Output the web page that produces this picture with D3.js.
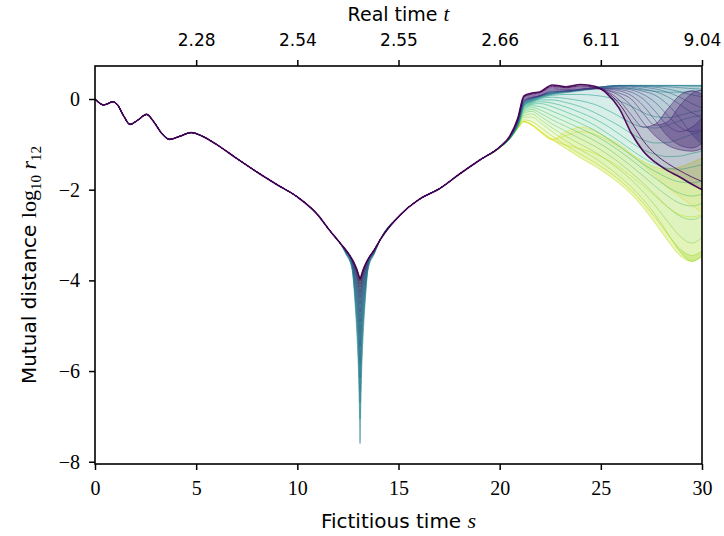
<!DOCTYPE html>
<html><head><meta charset="utf-8">
<script src="https://cdn.jsdelivr.net/npm/d3@7"></script>
<style>body{margin:0;background:#fff}svg{display:block}</style>
</head><body>
<svg id="chart" width="724" height="536"></svg>
<script>
// ---------------- data ----------------
const xTicks = [0, 5, 10, 15, 20, 25, 30];
const yTicks = [0, -2, -4, -6, -8];
const topTicks = [5, 10, 15, 20, 25, 30];
const realTimeLabels = ["2.28", "2.54", "2.55", "2.66", "6.11", "9.04"];

// shared early part of every trajectory
const earlyS = [0,0.2,0.41,0.65,0.86,1.1,1.4,1.73,2.1,2.55,2.9,3.3,3.67,4.2,4.75,5.3,6.0,7.0,8.0,9.0,10.0,11.0,11.6,12.1];
const earlyV = [0,-0.08,-0.13,-0.1,-0.06,-0.12,-0.36,-0.56,-0.47,-0.34,-0.5,-0.76,-0.89,-0.82,-0.74,-0.82,-1.0,-1.31,-1.61,-1.89,-2.16,-2.55,-2.9,-3.17];

// close encounter (per trajectory)
const dipS = [12.4,12.7,12.85,12.95,13.02,13.07,13.1,13.13,13.18,13.25,13.35,13.5,13.8];
const dipV = [
 [-3.33,-3.53,-3.66,-3.77,-3.87,-3.94,-3.97,-3.94,-3.87,-3.77,-3.66,-3.53,-3.33],
 [-3.33,-3.53,-3.67,-3.78,-3.89,-3.97,-4.01,-3.97,-3.89,-3.78,-3.67,-3.53,-3.33],
 [-3.33,-3.54,-3.69,-3.81,-3.93,-4.03,-4.08,-4.03,-3.93,-3.81,-3.69,-3.54,-3.33],
 [-3.33,-3.54,-3.7,-3.84,-3.98,-4.09,-4.15,-4.09,-3.98,-3.84,-3.7,-3.54,-3.33],
 [-3.34,-3.55,-3.73,-3.89,-4.04,-4.18,-4.26,-4.18,-4.04,-3.89,-3.73,-3.55,-3.34],
 [-3.34,-3.55,-3.75,-3.93,-4.1,-4.27,-4.37,-4.27,-4.1,-3.93,-3.75,-3.55,-3.34],
 [-3.34,-3.56,-3.79,-3.99,-4.19,-4.38,-4.51,-4.38,-4.19,-3.99,-3.79,-3.56,-3.34],
 [-3.35,-3.57,-3.83,-4.07,-4.3,-4.53,-4.7,-4.53,-4.3,-4.07,-3.83,-3.57,-3.35],
 [-3.35,-3.59,-3.88,-4.15,-4.42,-4.71,-4.91,-4.71,-4.42,-4.15,-3.88,-3.59,-3.35],
 [-3.36,-3.6,-3.94,-4.26,-4.57,-4.92,-5.17,-4.92,-4.57,-4.26,-3.94,-3.6,-3.36],
 [-3.37,-3.62,-4.0,-4.38,-4.74,-5.15,-5.46,-5.15,-4.74,-4.38,-4.0,-3.62,-3.37],
 [-3.38,-3.64,-4.08,-4.51,-4.94,-5.42,-5.79,-5.42,-4.94,-4.51,-4.08,-3.64,-3.38],
 [-3.38,-3.66,-4.16,-4.66,-5.15,-5.72,-6.15,-5.72,-5.15,-4.66,-4.16,-3.66,-3.38],
 [-3.4,-3.7,-4.29,-4.88,-5.47,-6.16,-6.69,-6.16,-5.47,-4.88,-4.29,-3.7,-3.4],
 [-3.42,-3.75,-4.5,-5.25,-6.0,-6.9,-7.6,-6.9,-6.0,-5.25,-4.5,-3.75,-3.42],
 [-3.41,-3.72,-4.37,-5.03,-5.68,-6.46,-7.06,-6.46,-5.68,-5.03,-4.37,-3.72,-3.41],
 [-3.39,-3.68,-4.23,-4.78,-5.32,-5.95,-6.44,-5.95,-5.32,-4.78,-4.23,-3.68,-3.39],
 [-3.38,-3.64,-4.1,-4.54,-4.98,-5.48,-5.86,-5.48,-4.98,-4.54,-4.1,-3.64,-3.38],
 [-3.37,-3.62,-4.0,-4.36,-4.72,-5.12,-5.42,-5.12,-4.72,-4.36,-4.0,-3.62,-3.37],
 [-3.36,-3.6,-3.91,-4.21,-4.51,-4.83,-5.06,-4.83,-4.51,-4.21,-3.91,-3.6,-3.36],
 [-3.35,-3.58,-3.84,-4.1,-4.34,-4.59,-4.77,-4.59,-4.34,-4.1,-3.84,-3.58,-3.35],
 [-3.34,-3.57,-3.79,-4.01,-4.21,-4.41,-4.55,-4.41,-4.21,-4.01,-3.79,-3.57,-3.34],
 [-3.34,-3.56,-3.76,-3.95,-4.13,-4.3,-4.41,-4.3,-4.13,-3.95,-3.76,-3.56,-3.34],
 [-3.34,-3.55,-3.74,-3.9,-4.06,-4.21,-4.3,-4.21,-4.06,-3.9,-3.74,-3.55,-3.34],
 [-3.34,-3.55,-3.72,-3.87,-4.02,-4.15,-4.22,-4.15,-4.02,-3.87,-3.72,-3.55,-3.34],
 [-3.33,-3.54,-3.7,-3.84,-3.98,-4.09,-4.15,-4.09,-3.98,-3.84,-3.7,-3.54,-3.33],
 [-3.33,-3.54,-3.69,-3.83,-3.96,-4.06,-4.12,-4.06,-3.96,-3.83,-3.69,-3.54,-3.33],
 [-3.33,-3.54,-3.69,-3.81,-3.93,-4.03,-4.08,-4.03,-3.93,-3.81,-3.69,-3.54,-3.33],
 [-3.33,-3.53,-3.68,-3.8,-3.91,-4.0,-4.04,-4.0,-3.91,-3.8,-3.68,-3.53,-3.33],
 [-3.33,-3.53,-3.67,-3.79,-3.9,-3.98,-4.02,-3.98,-3.9,-3.79,-3.67,-3.53,-3.33],
 [-3.33,-3.53,-3.67,-3.78,-3.89,-3.97,-4.01,-3.97,-3.89,-3.78,-3.67,-3.53,-3.33],
 [-3.33,-3.53,-3.66,-3.78,-3.88,-3.95,-3.99,-3.95,-3.88,-3.78,-3.66,-3.53,-3.33],
 [-3.33,-3.53,-3.66,-3.77,-3.87,-3.94,-3.97,-3.94,-3.87,-3.77,-3.66,-3.53,-3.33]
];

// shared recession after the encounter
const midS = [14.1,15.1,16.0,17.05,18.0,19.0];
const midV = [-3.1,-2.55,-2.22,-1.97,-1.66,-1.35];

// late, diverging part (per trajectory)
const lateS = [20.0,20.5,20.9,21.2,21.6,22.0,22.6,23.3,24.0,24.7,25.3,25.9,26.5,27.1,27.7,28.3,28.9,29.5,30.0];
const lateV = [
 [-1.06,-0.82,-0.42,0.07,0.13,0.16,0.31,0.27,0.32,0.28,0.12,-0.2,-0.75,-1.15,-1.4,-1.58,-1.72,-1.88,-2.0],
 [-1.06,-0.82,-0.43,0.05,0.11,0.14,0.28,0.25,0.29,0.26,0.15,-0.1,-0.5,-0.92,-1.22,-1.42,-1.58,-1.72,-1.82],
 [-1.06,-0.82,-0.44,0.04,0.09,0.12,0.26,0.23,0.27,0.25,0.17,-0.02,-0.35,-0.62,-0.55,-0.22,0.08,0.18,0.1],
 [-1.06,-0.83,-0.45,0.02,0.07,0.1,0.24,0.21,0.25,0.24,0.19,0.08,-0.15,-0.52,-0.82,-1.02,-1.12,-1.15,-1.1],
 [-1.06,-0.83,-0.46,0.0,0.05,0.08,0.22,0.2,0.23,0.23,0.2,0.13,0.0,-0.32,-0.58,-0.5,-0.15,0.12,0.2],
 [-1.06,-0.83,-0.47,-0.02,0.04,0.07,0.2,0.19,0.22,0.23,0.22,0.18,0.08,-0.15,-0.48,-0.82,-1.02,-1.08,-0.98],
 [-1.06,-0.83,-0.48,-0.03,0.03,0.07,0.18,0.18,0.21,0.23,0.23,0.21,0.15,0.0,-0.28,-0.58,-0.72,-0.62,-0.42],
 [-1.06,-0.84,-0.49,-0.04,0.03,0.07,0.17,0.17,0.2,0.23,0.24,0.23,0.2,0.1,-0.08,-0.36,-0.62,-0.72,-0.68],
 [-1.06,-0.84,-0.5,-0.05,0.02,0.07,0.16,0.17,0.2,0.23,0.25,0.26,0.23,0.17,0.08,-0.12,-0.42,-0.78,-1.0],
 [-1.06,-0.84,-0.5,-0.06,0.02,0.07,0.15,0.17,0.2,0.23,0.26,0.28,0.26,0.22,0.16,0.05,-0.12,-0.3,-0.42],
 [-1.06,-0.84,-0.51,-0.07,0.01,0.07,0.14,0.17,0.2,0.24,0.27,0.29,0.28,0.26,0.22,0.15,0.04,-0.1,-0.2],
 [-1.06,-0.85,-0.52,-0.08,0.0,0.07,0.14,0.17,0.21,0.25,0.28,0.29,0.29,0.28,0.26,0.22,0.16,0.09,0.05],
 [-1.06,-0.85,-0.52,-0.09,0.0,0.06,0.13,0.17,0.21,0.25,0.28,0.3,0.29,0.29,0.28,0.27,0.25,0.23,0.22],
 [-1.06,-0.85,-0.53,-0.1,-0.01,0.06,0.13,0.17,0.21,0.25,0.28,0.3,0.3,0.29,0.29,0.29,0.29,0.28,0.28],
 [-1.06,-0.85,-0.53,-0.11,-0.02,0.05,0.12,0.16,0.2,0.25,0.28,0.3,0.3,0.3,0.3,0.3,0.3,0.3,0.3],
 [-1.06,-0.86,-0.54,-0.12,-0.03,0.04,0.11,0.15,0.2,0.24,0.27,0.29,0.3,0.3,0.3,0.3,0.3,0.3,0.3],
 [-1.06,-0.86,-0.54,-0.13,-0.04,0.03,0.1,0.14,0.18,0.22,0.24,0.24,0.23,0.2,0.17,0.15,0.15,0.17,0.19],
 [-1.07,-0.86,-0.55,-0.14,-0.05,0.02,0.08,0.1,0.1,0.08,0.04,-0.04,-0.16,-0.3,-0.39,-0.41,-0.36,-0.29,-0.25],
 [-1.07,-0.86,-0.56,-0.15,-0.06,0.01,0.04,0.01,-0.04,-0.12,-0.24,-0.38,-0.53,-0.62,-0.64,-0.58,-0.48,-0.4,-0.36],
 [-1.07,-0.87,-0.57,-0.17,-0.08,-0.02,-0.02,-0.08,-0.17,-0.3,-0.44,-0.59,-0.76,-0.9,-0.97,-0.96,-0.88,-0.78,-0.72],
 [-1.07,-0.87,-0.58,-0.19,-0.1,-0.06,-0.09,-0.18,-0.3,-0.44,-0.59,-0.77,-0.96,-1.12,-1.22,-1.27,-1.26,-1.2,-1.15],
 [-1.07,-0.87,-0.58,-0.21,-0.12,-0.1,-0.17,-0.29,-0.42,-0.58,-0.75,-0.93,-1.12,-1.3,-1.44,-1.53,-1.55,-1.5,-1.45],
 [-1.07,-0.87,-0.59,-0.23,-0.15,-0.17,-0.27,-0.4,-0.54,-0.69,-0.86,-1.04,-1.24,-1.44,-1.6,-1.74,-1.83,-1.85,-1.8],
 [-1.07,-0.87,-0.6,-0.26,-0.19,-0.24,-0.37,-0.51,-0.65,-0.8,-0.96,-1.14,-1.34,-1.55,-1.75,-1.94,-2.08,-2.14,-2.1],
 [-1.07,-0.88,-0.6,-0.29,-0.23,-0.31,-0.46,-0.61,-0.76,-0.92,-1.08,-1.27,-1.48,-1.7,-1.93,-2.14,-2.3,-2.36,-2.3],
 [-1.07,-0.88,-0.61,-0.32,-0.27,-0.38,-0.55,-0.72,-0.88,-1.04,-1.21,-1.4,-1.62,-1.86,-2.12,-2.38,-2.58,-2.66,-2.58],
 [-1.07,-0.88,-0.62,-0.36,-0.33,-0.45,-0.64,-0.83,-1.0,-1.17,-1.35,-1.55,-1.78,-2.05,-2.36,-2.7,-3.02,-3.18,-3.05],
 [-1.08,-0.88,-0.62,-0.4,-0.4,-0.52,-0.72,-0.93,-1.12,-1.3,-1.49,-1.7,-1.94,-2.22,-2.56,-2.96,-3.36,-3.58,-3.45],
 [-1.08,-0.88,-0.63,-0.46,-0.5,-0.62,-0.82,-1.03,-1.22,-1.4,-1.58,-1.78,-2.02,-2.3,-2.62,-2.98,-3.3,-3.45,-3.35],
 [-1.08,-0.88,-0.64,-0.5,-0.57,-0.7,-0.9,-1.1,-1.3,-1.48,-1.66,-1.86,-2.1,-2.4,-2.75,-3.12,-3.45,-3.58,-3.48],
 [-1.08,-0.88,-0.64,-0.5,-0.58,-0.72,-0.9,-1.02,-1.1,-1.2,-1.33,-1.5,-1.7,-1.92,-2.15,-2.38,-2.55,-2.6,-2.55],
 [-1.08,-0.88,-0.64,-0.5,-0.58,-0.73,-0.9,-0.8,-0.72,-0.78,-0.9,-1.05,-1.22,-1.38,-1.5,-1.55,-1.5,-1.4,-1.3],
 [-1.08,-0.88,-0.64,-0.5,-0.58,-0.72,-0.88,-0.72,-0.62,-0.7,-0.85,-1.0,-1.2,-1.45,-1.7,-1.95,-2.15,-2.35,-2.5]
];

// ---------------- drawing ----------------
const svg = d3.select("#chart");
const L = 95, R = 702, T = 66, B = 464;
const x = d3.scaleLinear().domain([0, 30]).range([L, R]);
const y = d3.scaleLinear().domain([-8.05, 0.728]).range([B, T]);
const N = lateV.length;
const color = i => d3.interpolateViridis(i / (N - 1));

const curves = d3.range(N).map(i => {
  const pts = [];
  earlyS.forEach((s, k) => pts.push([s, earlyV[k]]));
  dipS.forEach((s, k) => pts.push([s, dipV[i][k]]));
  midS.forEach((s, k) => pts.push([s, midV[k]]));
  lateS.forEach((s, k) => pts.push([s, lateV[i][k]]));
  return pts;
});

svg.append("defs").append("clipPath").attr("id", "clip")
  .append("rect").attr("x", L).attr("y", T).attr("width", R - L).attr("height", B - T);

const plot = svg.append("g").attr("clip-path", "url(#clip)");
const line = d3.line().x(d => x(d[0])).y(d => y(d[1])).curve(d3.curveMonotoneX);
const area = d3.area().x(d => x(d[0])).y0(d => y(d[1])).y1(d => y(d[2])).curve(d3.curveMonotoneX);

// draw from yellow to purple so purple lies on top
for (let i = N - 1; i >= 0; i--) {
  if (i < N - 1) {
    const band = curves[i].map((p, k) => [p[0], p[1], curves[i + 1][k][1]]);
    plot.append("path").attr("d", area(band))
      .attr("fill", d3.interpolateViridis((i + 0.5) / (N - 1)))
      .attr("fill-opacity", 0.18).attr("stroke", "none");
  }
  plot.append("path").attr("d", line(curves[i]))
    .attr("fill", "none").attr("stroke", color(i))
    .attr("stroke-width", i === 0 ? 1.6 : 0.9).attr("stroke-opacity", i < 2 ? 0.95 : 0.6);
}

const fmt = v => (v < 0 ? "\u2212" + Math.abs(v) : String(v));
const serif = "'Liberation Serif', serif";
const sans = "'DejaVu Sans', sans-serif";

const gx = svg.append("g").attr("transform", `translate(0,${B})`)
  .call(d3.axisBottom(x).tickValues(xTicks).tickFormat(fmt).tickSize(6).tickPadding(11));
const gy = svg.append("g").attr("transform", `translate(${L},0)`)
  .call(d3.axisLeft(y).tickValues(yTicks).tickFormat(fmt).tickSize(6).tickPadding(9));
const gt = svg.append("g").attr("transform", `translate(0,${T})`)
  .call(d3.axisTop(x).tickValues(topTicks).tickFormat((d, i) => realTimeLabels[i]).tickSize(6).tickPadding(14));

[gx, gy, gt].forEach(g => {
  g.select(".domain").remove();
  g.selectAll(".tick line").attr("stroke", "#000").attr("stroke-width", 1.5);
  g.selectAll(".tick text").attr("fill", "#000");
});
gx.selectAll(".tick text").attr("font-family", serif).attr("font-size", 20);
gy.selectAll(".tick text").attr("font-family", serif).attr("font-size", 20);
gt.selectAll(".tick text").attr("font-family", sans).attr("font-size", 17);

svg.append("rect").attr("x", L).attr("y", T).attr("width", R - L).attr("height", B - T)
  .attr("fill", "none").attr("stroke", "#000").attr("stroke-width", 1.6);

// axis titles
const xl = svg.append("text").attr("x", (L + R) / 2).attr("y", 528).attr("text-anchor", "middle")
  .attr("font-family", sans).attr("font-size", 20).attr("fill", "#000");
xl.append("tspan").text("Fictitious time ");
xl.append("tspan").attr("font-family", serif).attr("font-style", "italic").attr("font-size", 22).text("s");

const tl = svg.append("text").attr("x", (L + R) / 2).attr("y", 21).attr("text-anchor", "middle")
  .attr("font-family", sans).attr("font-size", 19).attr("fill", "#000");
tl.append("tspan").text("Real time ");
tl.append("tspan").attr("font-family", serif).attr("font-style", "italic").attr("font-size", 21).text("t");

const yl = svg.append("text").attr("transform", `translate(36,${(T + B) / 2}) rotate(-90)`)
  .attr("text-anchor", "middle").attr("font-family", sans).attr("font-size", 20).attr("fill", "#000");
yl.append("tspan").text("Mutual distance ");
yl.append("tspan").attr("font-family", serif).attr("font-size", 22).text("log");
yl.append("tspan").attr("font-family", serif).attr("font-size", 15).attr("dy", 5).text("10");
yl.append("tspan").attr("font-family", serif).attr("font-size", 22).attr("font-style", "italic").attr("dy", -5).text(" r");
yl.append("tspan").attr("font-family", serif).attr("font-size", 15).attr("dy", 5).text("12");
</script>
</body></html>
